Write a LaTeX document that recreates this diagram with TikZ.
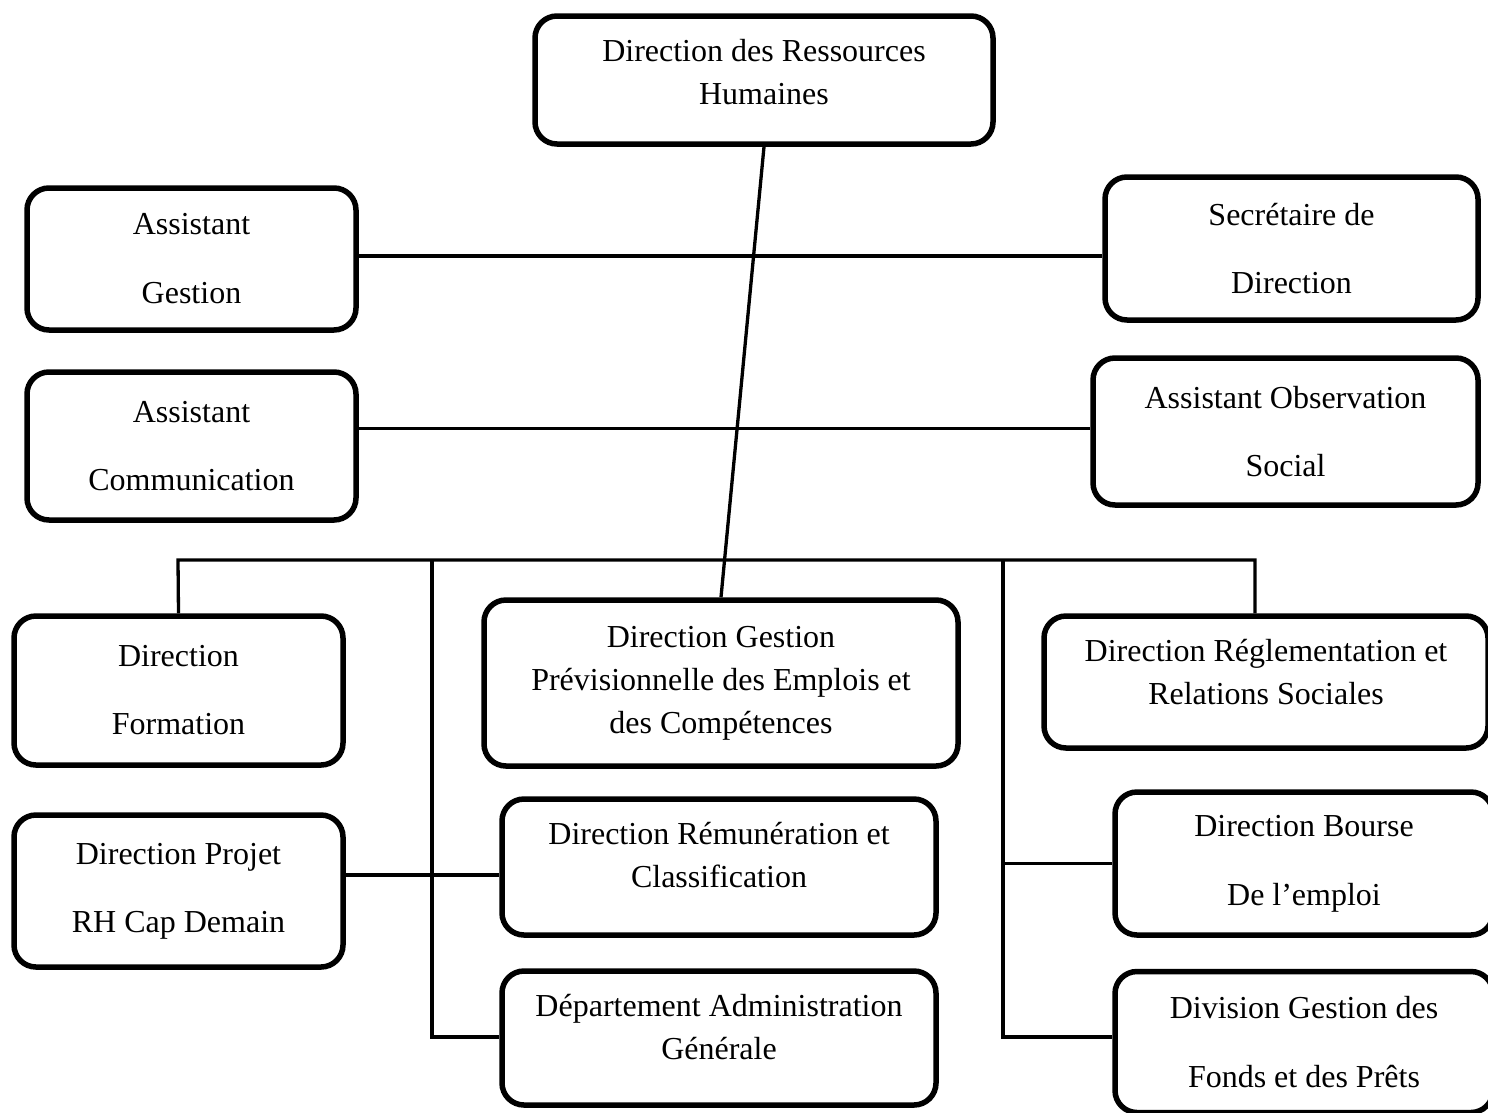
\documentclass[tikz,border=0pt]{standalone}
\usepackage{fontspec}
\setmainfont{Liberation Serif}
\begin{document}
\begin{tikzpicture}[x=1pt,y=-1pt,
  box/.style={draw, line width=5.5pt, rounded corners=22pt, align=center, inner sep=0pt,
    font=\fontsize{32}{43}\selectfont},
  link/.style={line width=3.3pt}]
\useasboundingbox (0,0) rectangle (1488,1112);

\node[box, minimum width=458pt, minimum height=128pt, text depth=17pt] (top) at (764,80) {Direction des Ressources\\Humaines};
\node[box, minimum width=329pt, minimum height=142pt] (ag) at (191.5,259) {Assistant\\[26pt]Gestion};
\node[box, minimum width=373pt, minimum height=143pt] (sd) at (1291.5,248.5) {Secrétaire de\\[25pt]Direction};
\node[box, minimum width=329pt, minimum height=148pt] (ac) at (191.5,446) {Assistant\\[25pt]Communication};
\node[box, minimum width=385pt, minimum height=147pt] (ao) at (1285.5,431.5) {Assistant Observation\\[25pt]Social};
\node[box, minimum width=329pt, minimum height=149pt] (df) at (178.5,690.5) {Direction\\[25pt]Formation};
\node[box, minimum width=474pt, minimum height=166pt] (gpec) at (721,683) {Direction Gestion\\Prévisionnelle des Emplois et\\des Compétences};
\node[box, minimum width=444pt, minimum height=132pt, text depth=21pt] (dr) at (1266,682) {Direction Réglementation et\\Relations Sociales};
\node[box, minimum width=329pt, minimum height=152pt] (dp) at (178.5,891) {Direction Projet\\[25pt]RH Cap Demain};
\node[box, minimum width=434pt, minimum height=136pt, text depth=25pt] (rem) at (719,867) {Direction Rémunération et\\Classification};
\node[box, minimum width=378pt, minimum height=143pt] (db) at (1304,863.5) {Direction Bourse\\[26pt]De l’emploi};
\node[box, minimum width=434pt, minimum height=134pt, text depth=23pt] (dag) at (719,1038) {Département Administration\\Générale};
\node[box, minimum width=378pt, minimum height=141pt] (dgf) at (1304,1042) {Division Gestion des\\[26pt]Fonds et des Prêts};

\coordinate (jl) at (178,560);
\coordinate (jr) at (1255,560);
\coordinate (j2) at (432,560);
\coordinate (j3) at (1003,560);
\coordinate (k2) at (432,1037);
\coordinate (k3) at (1003,1037);

\draw[link] (top.south) -- (gpec.north);
\draw[link] ([yshift=3pt]ag.east) -- ([yshift=3pt]ag.east -| sd.west);
\draw[link] ([yshift=3pt]ao.west -| ac.east) -- ([yshift=3pt]ao.west);
\draw[link] (df.north) -- (jl) -- (jr) -- (jr |- dr.north);
\draw[link] (j2) -- (k2) -- (k2 -| dag.west);
\draw[link] (j3) -- (k3) -- (k3 -| dgf.west);
\draw[link] (j3 |- db.west) -- (db.west);
\draw[link] ([yshift=16pt]dp.east) -- ([yshift=16pt]dp.east -| rem.west);
\end{tikzpicture}
\end{document}
